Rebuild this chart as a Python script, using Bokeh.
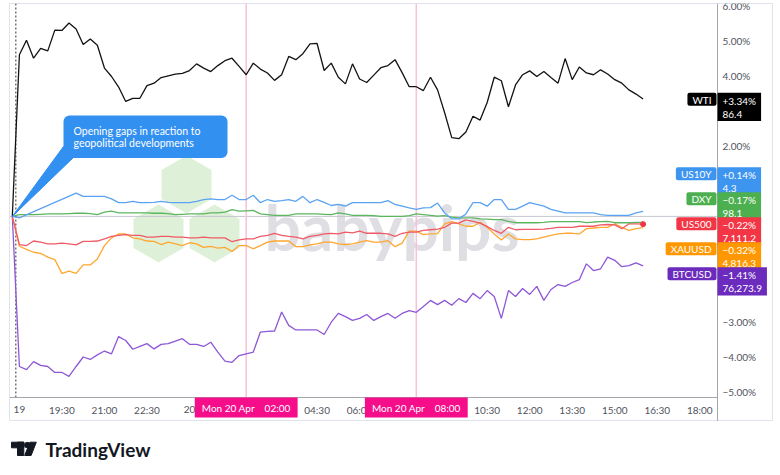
import math
from bokeh.plotting import figure
from bokeh.models import Range1d, Span, Label
from bokeh.layouts import column
from bokeh.core.properties import value
from bokeh.embed import file_html
from bokeh.resources import INLINE

# ---------------- data ----------------
# 15-minute bars, hours relative to Mon 20 Apr 00:00 (first bar = Sun 19 Apr 17:45)
times = [-6.25 + 0.25 * i for i in range(90)]

wti = [0.00, 4.60, 5.01, 4.50, 4.78, 4.71, 5.30, 5.29, 5.50, 5.33,
       4.89, 5.05, 4.87, 4.22, 3.98, 3.68, 3.27, 3.36, 3.36, 3.72,
       3.79, 3.95, 4.00, 4.05, 4.07, 4.15, 4.34, 4.22, 4.12, 4.29,
       4.43, 4.50, 4.27, 4.03, 4.36, 4.19, 4.08, 3.87, 4.03, 4.55,
       4.46, 4.63, 4.91, 4.92, 4.15, 4.36, 3.96, 3.77, 4.34, 3.91,
       3.81, 4.02, 4.23, 4.29, 4.46, 4.09, 3.69, 3.69, 3.58, 3.96,
       3.60, 2.95, 2.24, 2.21, 2.40, 2.85, 2.74, 3.24, 3.96, 3.86,
       3.12, 3.74, 4.03, 4.14, 3.98, 4.12, 3.95, 3.79, 4.49, 3.89,
       4.25, 4.08, 4.03, 4.17, 4.05, 3.89, 3.79, 3.60, 3.48, 3.34]

us10y = [0.00, -0.04, None, None, None, None, None, None, None, 0.66,
         0.57, 0.57, 0.57, 0.57, 0.50, 0.39, 0.39, 0.43, 0.39, 0.39,
         0.40, 0.43, 0.40, 0.39, 0.39, 0.39, 0.43, 0.48, 0.50, 0.48,
         0.48, 0.60, 0.48, 0.48, 0.60, 0.39, 0.48, 0.43, 0.45, 0.48,
         0.43, 0.57, 0.39, 0.48, 0.40, 0.31, 0.34, 0.29, 0.39, 0.39,
         0.39, 0.39, 0.39, 0.45, 0.34, 0.29, 0.24, 0.20, 0.24, 0.25,
         0.38, 0.10, -0.07, -0.07, 0.07, 0.39, 0.39, 0.29, 0.48, 0.48,
         0.20, 0.20, 0.29, 0.39, 0.34, 0.29, 0.20, 0.15, 0.10, 0.10,
         0.10, 0.10, 0.10, 0.05, 0.03, 0.03, 0.03, 0.03, 0.10, 0.14]

dxy = [0.00, 0.05, 0.05, 0.05, 0.06, 0.07, 0.07, 0.07, 0.08, 0.09,
       0.09, 0.08, 0.05, 0.12, 0.15, 0.10, 0.10, 0.10, 0.10, 0.10,
       0.09, 0.09, 0.08, 0.05, 0.06, 0.07, 0.07, 0.07, 0.10, 0.10,
       0.12, 0.19, 0.15, 0.16, 0.17, 0.07, 0.05, 0.03, 0.03, 0.03,
       0.07, 0.07, 0.07, 0.07, 0.06, 0.05, 0.10, 0.07, 0.03, 0.03,
       0.03, 0.02, 0.00, 0.00, 0.00, 0.00, 0.02, 0.07, 0.05, 0.03,
       0.01, 0.02, -0.02, -0.04, -0.04, -0.04, -0.07, -0.08, -0.09, -0.09,
       -0.14, -0.18, -0.18, -0.18, -0.18, -0.17, -0.15, -0.15, -0.15, -0.15,
       -0.15, -0.18, -0.16, -0.15, -0.14, -0.18, -0.18, -0.18, -0.17, -0.17]

us500 = [0.00, -0.80, -0.83, -0.70, -0.73, -0.78, -0.78, -0.76, -0.78, -0.81,
         -0.71, -0.71, -0.70, -0.64, -0.57, -0.54, -0.52, -0.54, -0.54, -0.59,
         -0.59, -0.57, -0.57, -0.59, -0.59, -0.61, -0.61, -0.59, -0.61, -0.61,
         -0.61, -0.72, -0.67, -0.64, -0.64, -0.57, -0.54, -0.48, -0.54, -0.57,
         -0.59, -0.64, -0.57, -0.54, -0.50, -0.48, -0.50, -0.45, -0.47, -0.42,
         -0.48, -0.48, -0.48, -0.50, -0.57, -0.48, -0.45, -0.45, -0.40, -0.38,
         -0.36, -0.31, -0.19, -0.19, -0.10, -0.14, -0.19, -0.29, -0.40, -0.48,
         -0.31, -0.38, -0.37, -0.37, -0.37, -0.36, -0.34, -0.31, -0.31, -0.31,
         -0.28, -0.28, -0.28, -0.24, -0.23, -0.24, -0.35, -0.21, -0.21, -0.22]

xauusd = [0.00, -0.85, -0.94, -1.02, -1.05, -1.16, -1.23, -1.62, -1.56, -1.62,
          -1.38, -1.38, -1.21, -0.83, -0.61, -0.50, -0.50, -0.61, -0.64, -0.70,
          -0.71, -0.80, -0.73, -0.78, -0.83, -0.75, -0.78, -0.88, -0.85, -0.90,
          -0.88, -1.00, -0.83, -0.83, -0.92, -0.83, -0.73, -0.70, -0.70, -0.70,
          -0.86, -0.86, -0.81, -0.78, -0.73, -0.73, -0.78, -0.80, -0.78, -0.73,
          -0.69, -0.73, -0.73, -0.69, -0.86, -0.76, -0.42, -0.42, -0.52, -0.50,
          -0.49, -0.21, -0.15, -0.21, -0.28, -0.28, -0.17, -0.31, -0.50, -0.67,
          -0.50, -0.64, -0.66, -0.66, -0.64, -0.59, -0.54, -0.50, -0.48, -0.48,
          -0.50, -0.35, -0.33, -0.31, -0.31, -0.21, -0.31, -0.40, -0.35, -0.32]

btcusd = [0.00, -4.27, -4.36, -4.13, -4.24, -4.27, -4.44, -4.44, -4.55, -4.27,
          -4.00, -4.07, -3.94, -3.83, -3.91, -3.42, -3.53, -3.78, -3.70, -3.62,
          -3.77, -3.64, -3.62, -3.55, -3.48, -3.64, -3.64, -3.70, -3.58, -3.86,
          -4.12, -4.15, -3.96, -3.91, -3.86, -3.29, -3.27, -3.26, -2.72, -3.10,
          -3.23, -3.23, -3.23, -3.23, -3.36, -3.01, -2.76, -2.85, -2.96, -2.90,
          -2.79, -2.96, -2.85, -2.76, -2.90, -2.76, -2.68, -2.73, -2.56, -2.39,
          -2.51, -2.39, -2.53, -2.34, -2.45, -2.19, -2.34, -2.11, -2.28, -2.90,
          -2.11, -2.28, -2.05, -2.22, -1.99, -2.39, -2.08, -1.94, -1.99, -1.88,
          -1.80, -1.35, -1.54, -1.49, -1.16, -1.25, -1.43, -1.40, -1.32, -1.41]

symbols = ["WTI", "US10Y", "DXY", "US500", "XAUUSD", "BTCUSD"]
last_change = [3.34, 0.14, -0.17, -0.22, -0.32, -1.41]
last_price = ["86.4", "4.3", "98.1", "7,111.2", "4,816.3", "76,273.9"]

y_ticks = [6, 5, 4, 3, 2, 1, -1, -2, -3, -4, -5]
x_ticks = [-6, -4.5, -3, -1.5, 0, 1.5, 3, 4.5, 6, 7.5, 9, 10.5, 12, 13.5, 15, 16.5, 18]
x_tick_labels = ["19", "19:30", "21:00", "22:30", "20", "01:30", "03:00", "04:30",
                 "06:00", "07:30", "09:00", "10:30", "12:00", "13:30", "15:00",
                 "16:30", "18:00"]
marker_times = [2.0, 8.0]
marker_labels = ["Mon 20 Apr\u00a0\u00a0\u00a0\u00a002:00", "Mon 20 Apr\u00a0\u00a0\u00a0\u00a008:00"]
callout_text = "Opening gaps in reaction to\ngeopolitical developments"

# ---------------- styling ----------------
line_colors = ["#131313", "#5aa3f2", "#5cb660", "#f05a66", "#ffa630", "#8e57d6"]
tag_colors = ["#000000", "#3d95f0", "#4caf50", "#f23645", "#ff9800", "#6b2bbd"]
tag_tops = [92.3, 166.7, 191.7, 216.7, 241.7, 266.7]   # px
FONT = "Lato"
AXIS_TXT = "#50535e"

# pixel -> data helpers (plot area: x 9..717, y 3..397; panel to x 772, y 421)
def hx(px):
    return (px - 189.0) / 28.35

def vy(py):
    return (215.9 - py) / 35.15

p = figure(width=780, height=421,
           x_range=Range1d(hx(9), hx(772)), y_range=Range1d(vy(421), vy(3)),
           output_backend="svg", toolbar_location=None,
           x_axis_type=None, y_axis_type=None,
           min_border_left=9, min_border_right=8, min_border_top=3, min_border_bottom=0)
p.background_fill_color = "white"
p.border_fill_color = "white"
p.outline_line_color = "#e0e3eb"

# watermark
p.scatter(x=[hx(186), hx(158), hx(214)], y=[vy(184), vy(233), vy(233)], marker="hex",
          size=60, angle=math.pi / 6, fill_color="#dff0d8", line_color="white", line_width=2)
p.text(x=[hx(264)], y=[vy(226)], text=["babypips"], text_font=value(FONT),
       text_font_style="bold", text_font_size="64px", text_color="#dfdfe3",
       text_baseline="alphabetic")

# reference lines
p.segment(x0=[hx(9)], y0=[0], x1=[hx(717)], y1=[0], line_color="#c3c6ce", line_width=1)
p.segment(x0=marker_times, y0=[vy(3)] * 2, x1=marker_times, y1=[vy(397)] * 2,
          line_color="#f9bfdc", line_width=1.5)
p.segment(x0=[-6.125], y0=[vy(3)], x1=[-6.125], y1=[vy(397)], line_color="#333333",
          line_width=1, line_dash="2 2")

# axes (drawn in the panel)
p.add_layout(Span(location=hx(717), dimension="height", line_color="#a3a6af", line_width=1))
p.segment(x0=[hx(9)], y0=[vy(397)], x1=[hx(717)], y1=[vy(397)], line_color="#a3a6af",
          line_width=1)
p.text(x=[hx(722)] * len(y_ticks), y=y_ticks,
       text=[(f"{t:.2f}%").replace("-", "\u2212") for t in y_ticks],
       text_font=value(FONT), text_font_size="10px", text_color=AXIS_TXT,
       text_align="left", text_baseline="middle")
p.text(x=x_ticks, y=[vy(409)] * len(x_ticks), text=x_tick_labels,
       text_font=value(FONT), text_font_size="10px", text_color=AXIS_TXT,
       text_align="center", text_baseline="middle")

# series
series = [wti, us10y, dxy, us500, xauusd, btcusd]
for vals, col in reversed(list(zip(series, line_colors))):
    xs = [t for t, v in zip(times, vals) if v is not None]
    ys = [v for v in vals if v is not None]
    p.line(xs, ys, line_color=col, line_width=1.3)
p.scatter(x=[times[-1]], y=[us500[-1]], size=5, color="#f23645")

# callout
p.patch([hx(63), hx(75), hx(11.8)], [vy(146), vy(155), vy(216)],
        fill_color="#3290f0", line_color="#3290f0")
p.add_layout(Label(x=hx(63), y=vy(115), text=callout_text, text_font=FONT,
                   text_font_size="10.5px", text_color="white", text_align="left",
                   text_baseline="top", text_line_height=1.05,
                   background_fill_color="#3290f0", border_radius=6,
                   padding=dict(left=10, right=27, top=9, bottom=9)))

# x-axis marker boxes
for t, lab in zip(marker_times, marker_labels):
    p.add_layout(Label(x=t, y=vy(397), text=lab, text_font=FONT, text_font_size="10px",
                       text_color="white", text_align="center", text_baseline="top",
                       background_fill_color="#f50d8a",
                       padding=dict(left=7, right=7, top=4, bottom=4)))

# right-hand tags
for sym, chg, price, col, top in zip(symbols, last_change, last_price, tag_colors, tag_tops):
    chg_txt = (f"{chg:+.2f}%").replace("-", "\u2212")
    p.add_layout(Label(x=hx(717), y=vy(top), text=f"{chg_txt}\n{price}", text_font=FONT,
                       text_font_size="10px", text_color="white", text_align="left",
                       text_baseline="top", text_line_height=1.1,
                       background_fill_color=col,
                       padding=dict(left=5, right=5, top=2, bottom=1)))
    p.add_layout(Label(x=hx(716), y=vy(top), text=sym, text_font=FONT,
                       text_font_size="10px", text_color="white", text_align="right",
                       text_baseline="top", background_fill_color=col, border_radius=2,
                       padding=dict(left=5, right=5, top=1, bottom=0)))

# footer with logo (its frame is aligned with the chart panel: page x 9..772)
f = figure(width=780, height=54, x_range=Range1d(9, 772), y_range=Range1d(54, 0),
           output_backend="svg", toolbar_location=None, x_axis_type=None, y_axis_type=None,
           min_border=0, min_border_left=0, min_border_right=0, min_border_top=0,
           min_border_bottom=0)
f.outline_line_color = None
f.background_fill_color = "white"
f.border_fill_color = "white"
f.quad(left=[11, 17], right=[23.3, 23.3], top=[20.7, 20.7], bottom=[26.3, 34],
       color="#131722")
f.scatter(x=[26.8], y=[23.6], size=5.5, color="#131722")
f.patch([29.4, 35.8, 30.6, 24.2], [20.7, 20.7, 34, 34], color="#131722")
f.text(x=[45], y=[27.5], text=["TradingView"], text_font=value(FONT),
       text_font_style="bold", text_font_size="19px", text_baseline="middle",
       text_color="#131722")

layout = column(p, f, spacing=0)
open("out.html", "w").write(file_html(layout, INLINE))
